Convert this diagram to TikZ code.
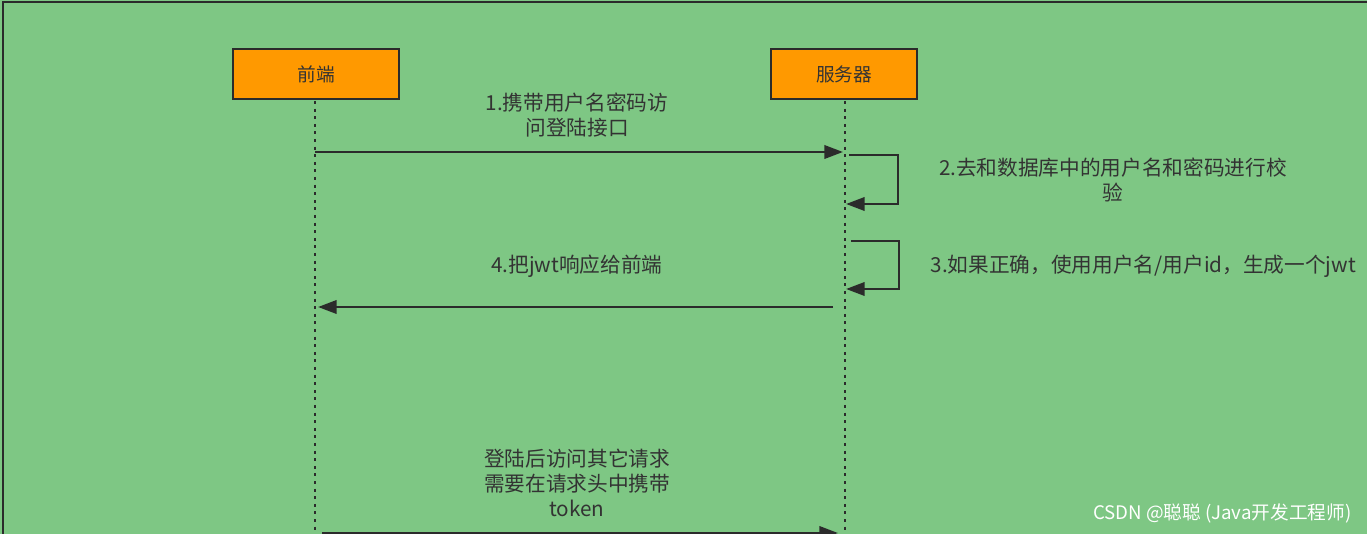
\documentclass[tikz,border=0pt]{standalone}
\usepackage{fontspec}
\newfontfamily\cjk{Noto Sans CJK SC}
\usetikzlibrary{arrows.meta}
\definecolor{bg}{HTML}{7EC784}
\definecolor{org}{HTML}{FF9900}
\definecolor{ln}{HTML}{2B2B2B}
\definecolor{tx}{HTML}{333333}
\begin{document}
\begin{tikzpicture}[x=0.75pt,y=-0.75pt,
  actor/.style={draw=ln,line width=2pt,fill=org,minimum width=#1*0.75pt,minimum height=50*0.75pt,inner sep=0pt,font=\cjk\fontsize{14}{16}\selectfont,text=tx},
  life/.style={ln,line width=2.2pt,dash pattern=on 2.2pt off 3.5pt},
  msg/.style={ln,line width=2pt,-{Triangle[length=14pt,width=10pt]}},
  lbl/.style={font=\cjk\fontsize{15.5}{19}\selectfont,text=tx,align=center}]
\useasboundingbox (0,0) rectangle (1367,534);
\fill[bg] (0,0) rectangle (1367,534);
\draw[ln,line width=2pt] (3,540) -- (3,2) -- (1370,2);
\node[actor=166] (fe) at (316,74) {前端};
\node[actor=146] (sv) at (844,74) {服务器};
\coordinate (feb) at (315,534);
\coordinate (svb) at (845,534);
\draw[life] (315,101) -- (feb);
\draw[life] (845,101) -- (svb);
\coordinate (a1s) at (315,152); \coordinate (a1e) at (843,152);
\draw[msg] (a1s) -- (a1e);
\node[lbl] (l1) at (577,115) {1.携带用户名密码访\\问登陆接口};
\coordinate (s2a) at (849,155); \coordinate (s2b) at (846,204);
\draw[msg] (s2a) -- (898,155) -- (898,204) -- (s2b);
\node[lbl] (l2) at (1113,180) {2.去和数据库中的用户名和密码进行校\\验};
\coordinate (s3a) at (851,241); \coordinate (s3b) at (846,289);
\draw[msg] (s3a) -- (899,241) -- (899,289) -- (s3b);
\node[lbl,anchor=west] (l3) at (926,266) {3.如果正确，使用用户名/用户id，生成一个jwt};
\coordinate (a4s) at (833,307); \coordinate (a4e) at (318,307);
\draw[msg] (a4s) -- (a4e);
\node[lbl] (l4) at (577,266) {4.把jwt响应给前端};
\node[lbl] (l5) at (577,483) {登陆后访问其它请求\\需要在请求头中携带\\token};
\coordinate (a5s) at (322,533); \coordinate (a5e) at (838,533);
\draw[msg] (a5s) -- (a5e);
\node[font=\cjk\fontsize{14}{16}\selectfont,text=white,anchor=east] (wm) at (1356,513) {CSDN @聪聪 (Java开发工程师)};
\end{tikzpicture}
\end{document}
